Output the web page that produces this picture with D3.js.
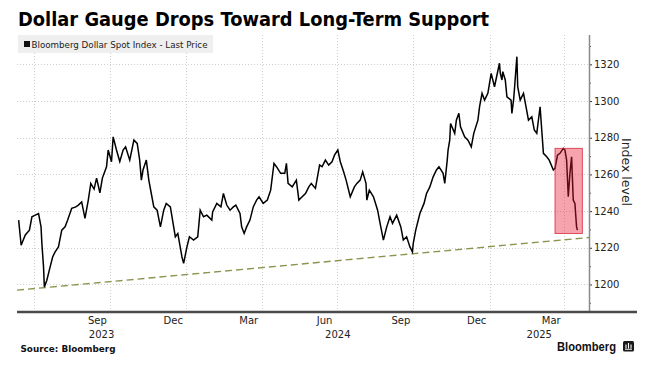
<!DOCTYPE html>
<html><head><meta charset="utf-8">
<script src="https://cdn.jsdelivr.net/npm/d3@7"></script>
<style>body{margin:0;background:#fff} svg{display:block}</style>
</head><body><svg id="c" width="656" height="370"></svg>
<script>
const dates = ["2023-06-13","2023-06-16","2023-06-21","2023-06-26","2023-06-29","2023-07-03","2023-07-07","2023-07-10","2023-07-11","2023-07-13","2023-07-14","2023-07-17","2023-07-20","2023-07-24","2023-07-27","2023-07-31","2023-08-04","2023-08-08","2023-08-11","2023-08-16","2023-08-21","2023-08-24","2023-08-28","2023-09-01","2023-09-05","2023-09-08","2023-09-12","2023-09-15","2023-09-19","2023-09-22","2023-09-27","2023-09-29","2023-10-03","2023-10-05","2023-10-09","2023-10-13","2023-10-17","2023-10-20","2023-10-25","2023-10-30","2023-11-03","2023-11-06","2023-11-08","2023-11-10","2023-11-14","2023-11-17","2023-11-20","2023-11-23","2023-11-27","2023-12-01","2023-12-05","2023-12-08","2023-12-13","2023-12-15","2023-12-19","2023-12-22","2023-12-27","2023-12-29","2024-01-02","2024-01-05","2024-01-10","2024-01-15","2024-01-18","2024-01-22","2024-01-26","2024-02-01","2024-02-02","2024-02-07","2024-02-12","2024-02-15","2024-02-19","2024-02-23","2024-02-27","2024-03-01","2024-03-06","2024-03-08","2024-03-11","2024-03-14","2024-03-18","2024-03-22","2024-03-26","2024-03-29","2024-04-03","2024-04-08","2024-04-12","2024-04-16","2024-04-19","2024-04-24","2024-04-29","2024-05-01","2024-05-03","2024-05-08","2024-05-13","2024-05-16","2024-05-20","2024-05-24","2024-05-28","2024-05-31","2024-06-05","2024-06-10","2024-06-13","2024-06-17","2024-06-21","2024-06-25","2024-06-28","2024-07-02","2024-07-05","2024-07-09","2024-07-12","2024-07-17","2024-07-22","2024-07-25","2024-07-29","2024-08-01","2024-08-05","2024-08-06","2024-08-09","2024-08-14","2024-08-19","2024-08-22","2024-08-26","2024-08-30","2024-09-03","2024-09-06","2024-09-11","2024-09-16","2024-09-19","2024-09-23","2024-09-27","2024-09-30","2024-10-01","2024-10-04","2024-10-09","2024-10-14","2024-10-17","2024-10-21","2024-10-25","2024-10-29","2024-11-01","2024-11-06","2024-11-08","2024-11-11","2024-11-12","2024-11-14","2024-11-15","2024-11-20","2024-11-22","2024-11-25","2024-11-27","2024-12-02","2024-12-06","2024-12-10","2024-12-13","2024-12-18","2024-12-20","2024-12-23","2024-12-26","2024-12-30","2025-01-03","2025-01-07","2025-01-13","2025-01-14","2025-01-16","2025-01-17","2025-01-20","2025-01-22","2025-01-27","2025-01-28","2025-01-30","2025-01-31","2025-02-03","2025-02-04","2025-02-07","2025-02-11","2025-02-14","2025-02-17","2025-02-21","2025-02-24","2025-02-27","2025-03-03","2025-03-05","2025-03-07","2025-03-11","2025-03-14","2025-03-19","2025-03-21","2025-03-24","2025-03-27","2025-03-31","2025-04-02","2025-04-04","2025-04-06","2025-04-08","2025-04-10","2025-04-12","2025-04-14","2025-04-16","2025-04-17"];
const values = [1235.1,1221.4,1227.0,1229.6,1236.9,1237.8,1238.7,1231.4,1222.4,1209.6,1198.7,1202.3,1207.8,1215.0,1217.8,1220.5,1229.6,1231.4,1235.0,1241.5,1242.3,1243.3,1245.0,1236.0,1246.0,1255.1,1252.0,1258.0,1250.0,1258.0,1264.2,1273.3,1266.9,1280.5,1273.3,1267.0,1273.3,1275.0,1267.8,1278.7,1276.9,1267.8,1256.9,1262.4,1267.8,1256.9,1249.6,1242.3,1240.5,1231.4,1240.5,1244.2,1242.3,1236.9,1226.0,1227.8,1215.0,1211.5,1220.5,1226.0,1224.2,1226.0,1240.5,1236.9,1237.8,1235.1,1239.6,1244.2,1242.3,1249.6,1243.3,1240.5,1242.3,1243.3,1238.7,1231.4,1227.8,1231.4,1235.1,1242.3,1246.0,1247.8,1244.2,1246.0,1251.4,1266.0,1264.2,1260.6,1260.6,1266.0,1255.1,1253.2,1256.9,1246.0,1247.8,1249.6,1253.2,1255.1,1252.4,1265.1,1264.2,1267.8,1265.1,1266.9,1270.5,1273.3,1266.9,1261.4,1256.9,1247.8,1253.2,1255.1,1256.9,1261.4,1255.1,1246.0,1251.4,1247.8,1240.5,1233.3,1224.2,1231.4,1236.9,1233.3,1237.8,1231.4,1224.2,1226.0,1220.5,1217.8,1222.4,1229.6,1238.7,1244.2,1249.6,1253.2,1258.7,1262.4,1264.2,1260.6,1255.1,1267.8,1273.3,1278.7,1287.8,1282.4,1289.6,1293.3,1286.0,1280.5,1278.7,1275.0,1282.4,1289.6,1296.9,1304.2,1300.5,1304.2,1315.1,1307.8,1320.6,1315.1,1311.5,1316.0,1311.5,1302.3,1300.5,1293.3,1300.5,1306.0,1324.2,1307.8,1300.5,1304.2,1296.9,1289.6,1291.4,1284.2,1282.4,1296.9,1284.2,1271.5,1269.6,1267.8,1262.4,1263.3,1270.5,1271.5,1274.2,1273.3,1267.8,1247.8,1260.6,1269.6,1246.0,1244.2,1231.4,1229.6];

const yTicks = [1200,1220,1240,1260,1280,1300,1320];
const yMinorTicks = [1190,1210,1230,1250,1270,1290,1310,1330];
const gridDates = ["2023-07-01","2023-10-01","2024-01-01","2024-04-01","2024-07-01","2024-10-01","2025-01-01","2025-04-01"];
const monthTickDates = ["2023-09-01","2023-12-01","2024-03-01","2024-06-01","2024-09-01","2024-12-01","2025-03-01"];
const monthLabels = ["Sep","Dec","Mar","Jun","Sep","Dec","Mar"];
const yearLabels = ["2023","2024","2025"];
const highlightDates = ["2025-03-21","2025-04-23"];
const highlightRange = [1227.8,1274.2];
const supportDates = ["2023-06-11","2025-05-01"];
const supportValues = [1196.9,1225.6];
const xDomain = ["2023-06-11","2025-05-01"];
const yDomain = [1185,1336];

const parse = d3.timeParse("%Y-%m-%d");
const svg = d3.select("#c");
const L = 17, R = 589, T = 35, B = 312;
const FONT = "'DejaVu Sans', Verdana, sans-serif";

const x = d3.scaleTime().domain(xDomain.map(parse)).range([L, R]);
const y = d3.scaleLinear().domain(yDomain).range([B, T]);

// gridlines
const grid = svg.append("g").attr("stroke", "#cfcfcf").attr("stroke-width", 1).attr("stroke-dasharray", "1,2");
grid.selectAll("line.h").data(yTicks).join("line")
  .attr("x1", L).attr("x2", R).attr("y1", d => Math.round(y(d)) + 0.5).attr("y2", d => Math.round(y(d)) + 0.5);
grid.selectAll("line.v").data(gridDates.map(parse)).join("line")
  .attr("x1", d => Math.round(x(d)) + 0.5).attr("x2", d => Math.round(x(d)) + 0.5).attr("y1", T).attr("y2", B);

// legend
svg.append("rect").attr("x", 18).attr("y", 35).attr("width", 195).attr("height", 18).attr("fill", "#efefef");
svg.append("rect").attr("x", 24).attr("y", 41).attr("width", 6).attr("height", 6).attr("fill", "#111");
svg.append("text").attr("x", 31.5).attr("y", 47.5).attr("font-family", FONT).attr("font-size", 9)
  .attr("fill", "#222").attr("textLength", 176).attr("lengthAdjust", "spacingAndGlyphs")
  .text("Bloomberg Dollar Spot Index - Last Price");

// support line
svg.append("path")
  .datum(supportDates.map((d, i) => [parse(d), supportValues[i]]))
  .attr("d", d3.line().x(d => x(d[0])).y(d => y(d[1])))
  .attr("fill", "none").attr("stroke", "#8e9350").attr("stroke-width", 1.4).attr("stroke-dasharray", "7,4");

// price line
const series = dates.map((d, i) => ({ date: parse(d), value: values[i] }));
svg.append("path").datum(series)
  .attr("d", d3.line().x(d => x(d.date)).y(d => y(d.value)))
  .attr("fill", "none").attr("stroke", "#000").attr("stroke-width", 1.5).attr("stroke-linejoin", "miter");

// highlight box
const hx0 = x(parse(highlightDates[0])), hx1 = x(parse(highlightDates[1]));
svg.append("rect").attr("x", hx0).attr("y", y(highlightRange[1]))
  .attr("width", hx1 - hx0).attr("height", y(highlightRange[0]) - y(highlightRange[1]))
  .attr("fill", "rgba(232,24,50,0.4)").attr("stroke", "rgba(215,30,50,0.75)").attr("stroke-width", 1);

// right axis
const ax = svg.append("g").attr("transform", `translate(${R},0)`)
  .call(d3.axisRight(y).tickValues(yTicks).tickSize(3).tickPadding(2).tickFormat(d3.format("d")));
ax.select(".domain").remove();
ax.selectAll("line").attr("stroke", "#333");
ax.selectAll("text").attr("font-family", FONT).attr("font-size", 10).attr("fill", "#222");
const axm = svg.append("g").attr("transform", `translate(${R},0)`)
  .call(d3.axisRight(y).tickValues(yMinorTicks).tickSize(2).tickFormat(""));
axm.select(".domain").remove();
axm.selectAll("line").attr("stroke", "#555");
svg.append("line").attr("x1", R + 0.5).attr("x2", R + 0.5).attr("y1", T).attr("y2", B).attr("stroke", "#8a8a8a").attr("stroke-width", 1.5);

svg.append("text").attr("transform", "translate(622,172) rotate(90)").attr("text-anchor", "middle")
  .attr("font-family", FONT).attr("font-size", 12.5).attr("fill", "#222").text("Index level");

// bottom axis line
svg.append("line").attr("x1", L).attr("x2", 637).attr("y1", B).attr("y2", B).attr("stroke", "#4a4a4a").attr("stroke-width", 2.5);

// month labels (centred in their month)
const mDates = monthTickDates.map(parse);
svg.selectAll("text.m").data(mDates).join("text")
  .attr("x", d => (x(d) + x(d3.timeMonth.offset(d, 1))) / 2).attr("y", 324)
  .attr("text-anchor", "middle").attr("font-family", FONT).attr("font-size", 10).attr("fill", "#222")
  .text((d, i) => monthLabels[i]);

// year labels (centred in visible part of year)
const dom = x.domain();
svg.selectAll("text.yr").data(yearLabels).join("text")
  .attr("x", d => {
    const a = new Date(+d, 0, 1), b = new Date(+d + 1, 0, 1);
    const s = a < dom[0] ? dom[0] : a, e = b > dom[1] ? dom[1] : b;
    return (x(s) + x(e)) / 2;
  }).attr("y", 337.5)
  .attr("text-anchor", "middle").attr("font-family", FONT).attr("font-size", 10).attr("fill", "#222")
  .text(d => d);

// title
svg.append("text").attr("x", 18).attr("y", 26).attr("font-family", FONT).attr("font-weight", "bold")
  .attr("font-size", 19).attr("fill", "#000").attr("textLength", 471).attr("lengthAdjust", "spacingAndGlyphs")
  .text("Dollar Gauge Drops Toward Long-Term Support");

// source
svg.append("text").attr("x", 20.5).attr("y", 351.5).attr("font-family", FONT).attr("font-weight", "bold")
  .attr("font-size", 9).attr("fill", "#111").attr("textLength", 95).attr("lengthAdjust", "spacingAndGlyphs")
  .text("Source: Bloomberg");

// Bloomberg wordmark
svg.append("text").attr("x", 557).attr("y", 351).attr("font-family", "'Liberation Sans', Arial, sans-serif").attr("font-weight", "bold")
  .attr("font-size", 13).attr("fill", "#111").attr("textLength", 59).attr("lengthAdjust", "spacingAndGlyphs")
  .text("Bloomberg");
const ic = svg.append("g").attr("transform", "translate(623,341)");
ic.append("rect").attr("width", 11).attr("height", 10.5).attr("rx", 1.5).attr("fill", "#1a1a1a");
ic.selectAll("line").data([3, 5.5, 8]).join("line")
  .attr("x1", d => d).attr("x2", d => d).attr("y1", (d, i) => i === 1 ? 2 : 3.5).attr("y2", 7.5)
  .attr("stroke", "#fff").attr("stroke-width", 1.1);
ic.append("line").attr("x1", 2).attr("x2", 9).attr("y1", 8.3).attr("y2", 8.3).attr("stroke", "#fff").attr("stroke-width", 0.9);
</script></body></html>
